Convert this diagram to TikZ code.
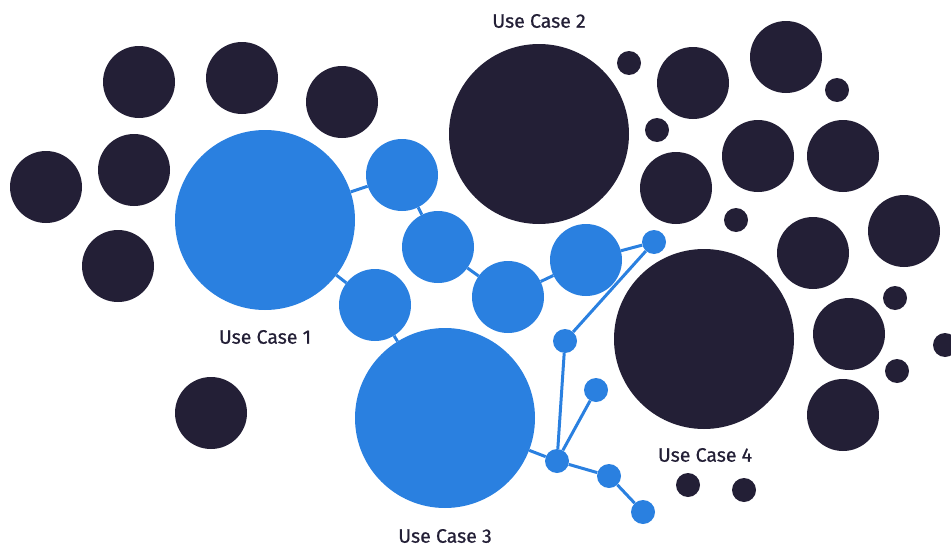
\documentclass[tikz,border=0pt]{standalone}
\usepackage{fontspec}
\newfontfamily\labelfont{Fira Sans}[FakeBold=0.6]
\definecolor{ink}{HTML}{231F36}
\definecolor{azure}{HTML}{2A80E0}
\tikzset{
  blob/.style={circle, inner sep=0pt, fill=ink},
  hub/.style={circle, inner sep=0pt, fill=azure},
  link/.style={azure, line width=3pt},
  caption/.style={font=\labelfont\fontsize{19.5}{21}\selectfont, text=ink}
}

\begin{document}
\begin{tikzpicture}[x=1pt, y=-1pt]
    \useasboundingbox (0,0) rectangle (951,546);

    % dark circles
    \foreach \x/\y/\d [count=\i] in {139/82/72, 242/78/72, 342/102/72, 46/187/72,
        134/170/72, 118/266/72, 211/413/72, 539/134/180,
        629/63/24, 693/83/72, 786/57/72, 837/90/24, 657/130/24,
        758/156/72, 843/156/72, 676/188/72, 736/220/24, 904/231/72,
        813/253/72, 704/339/180, 895/298/24, 849/334/72, 945/345/24,
        897/371/24, 843/415/72, 688/485/24, 744/490/24}
    \node[blob, minimum size=\d pt] (d\i) at (\x,\y) {};

    % blue network
    \node[hub, minimum size=180pt] (uc1) at (265,220) {};
    \node[hub, minimum size=180pt] (uc3) at (445,418) {};
    \node[hub, minimum size=72pt] (b1) at (402,175) {};
    \node[hub, minimum size=72pt] (b2) at (438,247) {};
    \node[hub, minimum size=72pt] (b3) at (375,305) {};
    \node[hub, minimum size=72pt] (b4) at (508,297) {};
    \node[hub, minimum size=72pt] (b5) at (586,260) {};
    \node[hub, minimum size=24pt] (s1) at (654,242) {};
    \node[hub, minimum size=24pt] (s2) at (565,341) {};
    \node[hub, minimum size=24pt] (s3) at (596,390) {};
    \node[hub, minimum size=24pt] (s4) at (557,461) {};
    \node[hub, minimum size=24pt] (s5) at (609,476) {};
    \node[hub, minimum size=24pt] (s6) at (643,512) {};

    \draw[link] (uc1) -- (b1) -- (b2) -- (b4) -- (b5) -- (s1) -- (s2) -- (s4);
    \draw[link] (uc1) -- (b3) -- (uc3) -- (s4) -- (s5) -- (s6);
    \draw[link] (s3) -- (s4);

    % labels
    \node[caption] (l1) at (265,337) {Use Case 1};
    \node[caption] (l2) at (539,21) {Use Case 2};
    \node[caption] (l3) at (445,536) {Use Case 3};
    \node[caption] (l4) at (705,455) {Use Case 4};
\end{tikzpicture}
\end{document}
